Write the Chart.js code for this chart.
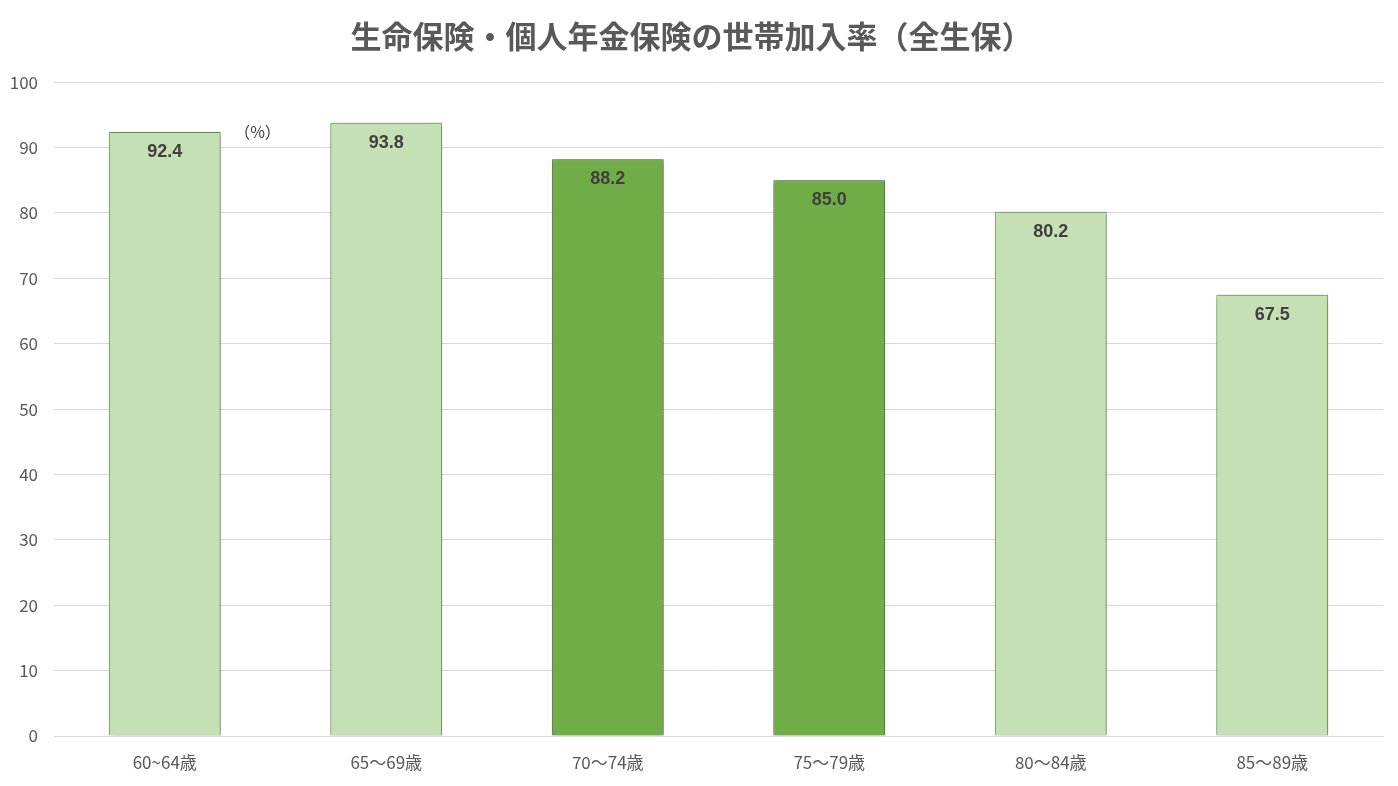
<!DOCTYPE html>
<html><head><meta charset="utf-8">
<script src="https://cdn.jsdelivr.net/npm/chart.js@4"></script>
<style>html,body{margin:0;padding:0;background:#fff;}#wrap{width:1398px;height:786px;}</style>
</head><body><div id="wrap"><canvas id="c"></canvas></div>
<script>
const categories = ["60~64歳","65～69歳","70～74歳","75～79歳","80～84歳","85～89歳"];
const values = [92.4, 93.8, 88.2, 85.0, 80.2, 67.5];
const highlight = [false, false, true, true, false, false];
const yTicks = [0,10,20,30,40,50,60,70,80,90,100];
const titleText = "生命保険・個人年金保険の世帯加入率（全生保）";
const unitText = "（%）";

const FONT = "'Noto Sans CJK JP','Noto Sans',sans-serif";

const shadowPlugin = {
  id: 'shadow',
  beforeDatasetDraw(chart){ const ctx = chart.ctx; ctx.save(); ctx.shadowColor='rgba(0,0,0,0.45)'; ctx.shadowBlur=6; ctx.shadowOffsetX=1; ctx.shadowOffsetY=0; },
  afterDatasetDraw(chart){ chart.ctx.restore(); }
};
const labelPlugin = {
  id: 'labels',
  afterDatasetsDraw(chart){
    const ctx = chart.ctx; const meta = chart.getDatasetMeta(0);
    ctx.save();
    ctx.font = "bold 18px 'Liberation Sans', Arial, sans-serif";
    ctx.fillStyle = '#404040'; ctx.textAlign='center'; ctx.textBaseline='middle';
    meta.data.forEach((bar,i)=>{ ctx.fillText(values[i].toFixed(1), bar.x, bar.y+20); });
    const xs = chart.scales.x, ys = chart.scales.y;
    ctx.font = "16px " + FONT; ctx.fillStyle='#404040';
    ctx.fillText(unitText, (xs.getPixelForValue(0)+xs.getPixelForValue(1))/2 - 18, ys.getPixelForValue(92.4));
    ctx.restore();
  }
};

new Chart(document.getElementById('c'), {
  type: 'bar',
  data: { labels: categories, datasets: [{
    data: values,
    backgroundColor: highlight.map(h=>h?'#70AD47':'#C5E0B4'),
    borderColor: highlight.map(h=>h?'#548235':'#70AD47'),
    borderWidth: 1,
    borderSkipped: 'bottom',
    categoryPercentage: 1.0,
    barPercentage: 0.505
  }]},
  options: {
    responsive: true, maintainAspectRatio: false, animation: false,
    devicePixelRatio: 1,
    layout: { padding: { left: 0, right: 15, top: 0, bottom: 0 } },
    plugins: {
      legend: { display: false }, tooltip: { enabled: false },
      title: { display: true, text: titleText, color: '#595959',
        font: { family: FONT, size: 31, weight: 'bold' }, padding: { top: 18, bottom: 27 } }
    },
    scales: {
      x: { afterFit(s){ s.height = 50; }, grid: { display: false, drawTicks:false }, border: { color: '#D9D9D9' },
        ticks: { color: '#595959', font: { family: FONT, size: 17 }, padding: 16 } },
      y: { min: 0, max: 100, afterFit(s){ s.width = 54; },
        afterBuildTicks(s){ s.ticks = yTicks.map(v=>({value:v})); },
        grid: { color: '#D9D9D9', drawTicks:false }, border: { display: false },
        ticks: { color: '#595959', font: { family: FONT, size: 17 }, padding: 16 } }
    }
  },
  plugins: [shadowPlugin, labelPlugin]
});
</script></body></html>
